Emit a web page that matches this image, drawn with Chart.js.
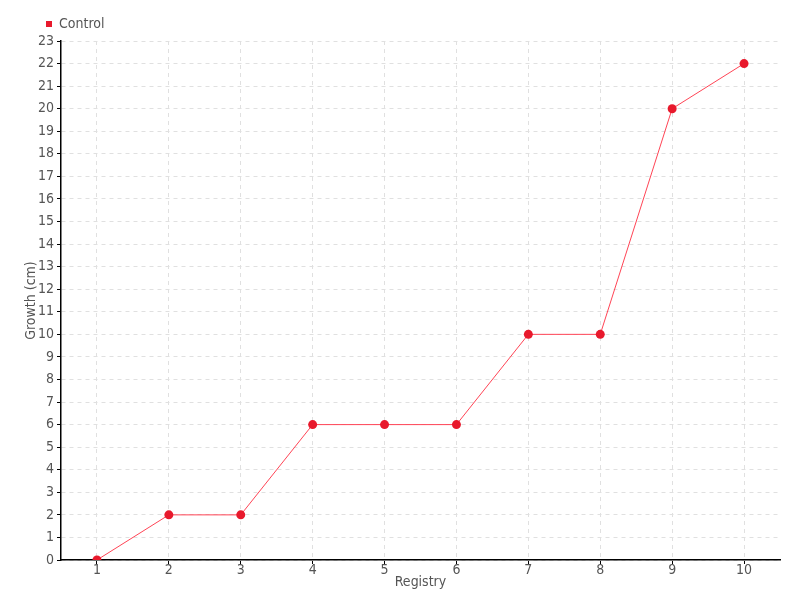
<!DOCTYPE html>
<html>
<head>
<meta charset="utf-8">
<script src="https://cdn.jsdelivr.net/npm/chart.js@4"></script>
<style>
html,body{margin:0;padding:0;background:#fff;}
#wrap{width:800px;height:600px;}
</style>
</head>
<body>
<div id="wrap"><canvas id="c" width="800" height="600"></canvas></div>
<script>
const categories = ['1','2','3','4','5','6','7','8','9','10'];
const seriesName = 'Control';
const controlValues = [0, 2, 2, 6, 6, 6, 10, 10, 20, 22];
const yMin = 0, yMax = 23, yStep = 1;
const xTitle = 'Registry';
const yTitle = 'Growth (cm)';

const FONT = '"Liberation Sans Narrow", "DejaVu Sans Condensed", sans-serif';
Chart.defaults.font.family = FONT;
Chart.defaults.font.size = 14;
Chart.defaults.color = '#555';

const shiftLegend = {
  id: 'shiftLegend',
  afterLayout(chart) {
    if (chart.legend) { chart.legend.left += 19; chart.legend.right += 19; }
  }
};

new Chart(document.getElementById('c'), {
  type: 'line',
  data: {
    labels: categories,
    datasets: [{
      label: seriesName,
      data: controlValues,
      borderColor: '#ff4455',
      borderWidth: 1,
      backgroundColor: '#e8192c',
      pointBackgroundColor: '#e8192c',
      pointBorderColor: '#e8192c',
      pointRadius: 4.5,
      pointBorderWidth: 0,
      tension: 0
    }]
  },
  options: {
    responsive: false,
    animation: false,
    layout: { padding: { left: 23, right: 20, top: 13, bottom: 0 } },
    plugins: {
      legend: {
        position: 'top',
        align: 'start',
        labels: {
          usePointStyle: true,
          pointStyle: 'rect',
          boxWidth: 6,
          boxHeight: 6,
          padding: 4,
          color: '#555',
          font: { size: 14 }
        }
      },
      tooltip: { enabled: false }
    },
    scales: {
      x: {
        type: 'category',
        offset: true,
        title: { display: true, text: xTitle, padding: { top: 0, bottom: 9 }, color: '#555' },
        grid: {
          offset: false,
          color: '#e0e0e0',
          tickColor: '#000',
          tickLength: 4,
          drawTicks: true
        },
        border: { display: true, color: '#000', width: 1.5, dash: [4, 4] },
        ticks: { padding: -2, color: '#555' },
        afterFit(s) { s.height = 40; }
      },
      y: {
        min: yMin, max: yMax,
        title: { display: true, text: yTitle, padding: 0, color: '#555' },
        grid: {
          color: '#e0e0e0',
          tickColor: '#000',
          tickLength: 4,
          drawTicks: true
        },
        border: { display: true, color: '#000', width: 1.5, dash: [4, 4] },
        ticks: { stepSize: yStep, padding: 3, color: '#555', autoSkip: false },
        afterFit(s) { s.width = 38; }
      }
    }
  },
  plugins: [shiftLegend]
});
</script>
</body>
</html>
